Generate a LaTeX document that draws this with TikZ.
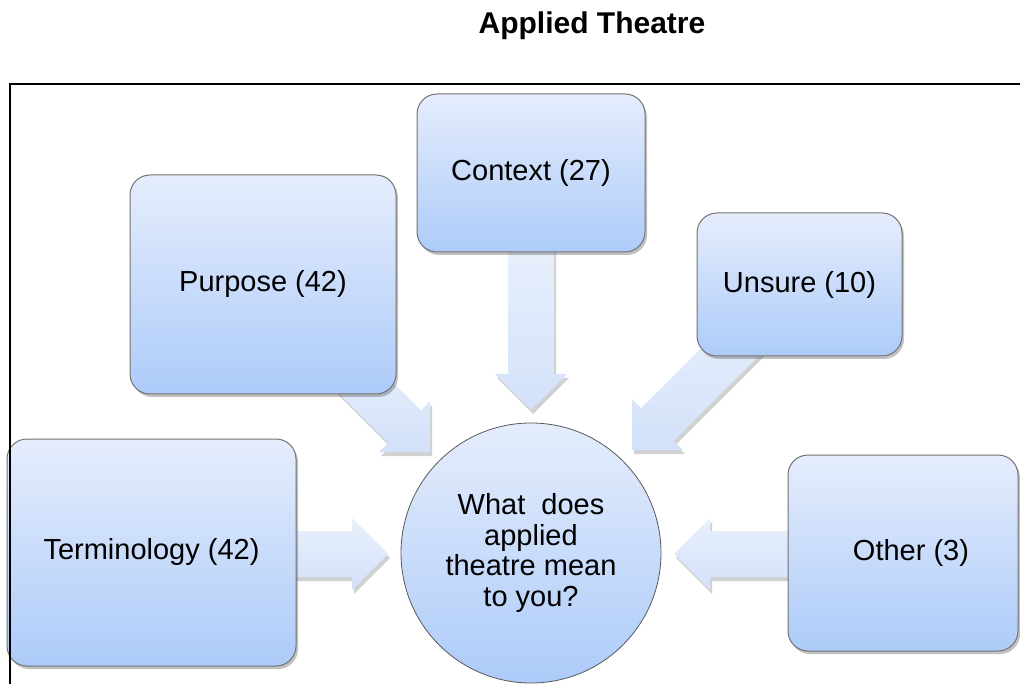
\documentclass[tikz,border=0pt]{standalone}
\usepackage{fontspec}
\setmainfont{Liberation Sans}
\usetikzlibrary{calc,shadows}
\definecolor{boxtop}{RGB}{229,237,252}
\definecolor{boxbot}{RGB}{173,203,249}
\definecolor{arrtop}{RGB}{233,240,252}
\definecolor{arrbot}{RGB}{210,225,250}
\definecolor{boxline}{RGB}{115,115,115}
\tikzset{
  catbox/.style={rectangle, rounded corners=20pt, inner sep=0pt,
    top color=boxtop, bottom color=boxbot, draw=boxline, line width=1pt,
    drop shadow={shadow xshift=2pt, shadow yshift=-3pt, opacity=0.35, fill=black!70},
    font=\fontsize{29}{31}\selectfont},
  centre/.style={circle, inner sep=0pt, minimum size=260pt,
    top color=boxtop, bottom color=boxbot, draw=black!65, line width=0.8pt,
    align=center, font=\fontsize{29}{30.5}\selectfont},
  blockarr/.style={top color=arrtop, bottom color=arrbot,
    drop shadow={shadow xshift=2pt, shadow yshift=-4pt, opacity=0.3, fill=black!60}},
  frameline/.style={line width=2pt, black}
}
\newcommand\blockarrow[2]{%
  \coordinate (hb) at ($(#2)!36pt!(#1)$);
  \path[blockarr] ($(#1)!23pt!90:(#2)$) -- ($(hb)!23pt!90:(#2)$) -- ($(hb)!36pt!90:(#2)$)
    -- (#2) -- ($(hb)!36pt!-90:(#2)$) -- ($(hb)!23pt!-90:(#2)$) -- ($(#1)!23pt!-90:(#2)$) -- cycle;
}
\begin{document}
\begin{tikzpicture}[x=1pt, y=-1pt]
\useasboundingbox (0,0) rectangle (1020,684);
% arrow end coordinates
\coordinate (ctxS) at (531,240);
\coordinate (ctxT) at (531,410);
\coordinate (purS) at (340,362);
\coordinate (purT) at (430,452);
\coordinate (unsS) at (770,312);
\coordinate (unsT) at (632,450);
\coordinate (terS) at (285,554);
\coordinate (terT) at (388,554);
\coordinate (othS) at (800,554);
\coordinate (othT) at (674,554);
\blockarrow{ctxS}{ctxT}
\blockarrow{purS}{purT}
\blockarrow{unsS}{unsT}
\blockarrow{terS}{terT}
\blockarrow{othS}{othT}
% boxes
\node[catbox, minimum width=228pt, minimum height=158pt] (context) at (531,173) {Context (27)};
\node[catbox, minimum width=266pt, minimum height=219pt] (purpose) at (263,284.5) {Purpose (42)};
\node[catbox, minimum width=205pt, minimum height=143pt] (unsure) at (799.5,284.5) {Unsure (10)};
\node[catbox, minimum width=289pt, minimum height=227pt] (term) at (151.5,552.5) {Terminology (42)};
\node[catbox, minimum width=230pt, minimum height=196pt] (other) at (903,553) {\hspace*{16pt}Other (3)};
\node[centre] (centre) at (531,553) {What\ \ does\\applied\\theatre mean\\to you?};
% frame
\coordinate (fbl) at (10,684);
\coordinate (ftl) at (10,84);
\coordinate (ftr) at (1020,84);
\draw[frameline] (fbl) -- (ftl) -- (ftr);
% title
\node[anchor=base, font=\fontsize{30}{32}\selectfont\bfseries, inner sep=0pt] (title) at (592,34) {Applied Theatre};
\end{tikzpicture}
\end{document}
